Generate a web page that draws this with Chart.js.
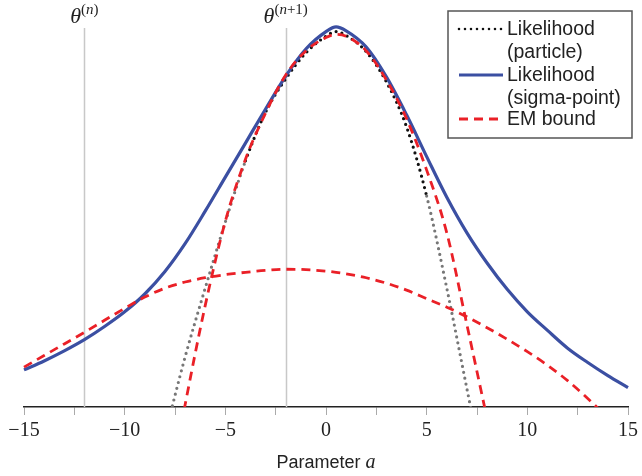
<!DOCTYPE html>
<html>
<head>
<meta charset="utf-8">
<script src="https://cdn.jsdelivr.net/npm/chart.js@4.4.1/dist/chart.umd.min.js"></script>
<style>
  html, body { margin: 0; padding: 0; background: #fff; }
</style>
</head>
<body>
<canvas id="chart" width="642" height="476"></canvas>
<script>
// Parameter a (shared x grid for every curve)
const paramA = [-15, -14, -13, -12, -11, -10, -9, -8, -7, -6, -5, -4, -3, -2, -1, 0, 0.5,
                1, 2, 3, 4, 5, 6, 7, 8, 9, 10, 11, 12, 13, 14, 15];

// Likelihood values (no y axis shown, peak ~ 1)
const likeParticle = [null, null, null, null, null, null, null, -0.072, 0.129, 0.307, 0.478, 0.636, 0.762, 0.848, 0.915, 0.958, 0.970,
                      0.960, 0.918, 0.840, 0.724, 0.545, 0.307, 0.047, -0.213, null, null, null, null, null, null, null];
const likeSigma = [0.096, 0.119, 0.145, 0.174, 0.208, 0.246, 0.292, 0.350, 0.422, 0.506, 0.594, 0.682, 0.770, 0.855, 0.925, 0.970, 0.982,
                   0.972, 0.930, 0.853, 0.755, 0.647, 0.542, 0.450, 0.372, 0.304, 0.246, 0.198, 0.152, 0.115, 0.081, 0.050];
const emBoundNarrow = [null, null, null, null, null, null, null, -0.275, 0.005, 0.262, 0.480, 0.640, 0.760, 0.858, 0.920, 0.955, 0.963,
                       0.958, 0.920, 0.845, 0.745, 0.612, 0.450, 0.212, -0.030, null, null, null, null, null, null, null];
const emBoundWide = [0.103, 0.133, 0.163, 0.193, 0.224, 0.255, 0.284, 0.307, 0.323, 0.334, 0.342, 0.348, 0.353, 0.356, 0.355, 0.351, 0.348,
                     0.344, 0.334, 0.320, 0.302, 0.280, 0.258, 0.233, 0.205, 0.175, 0.143, 0.108, 0.068, 0.022, -0.028, null];

// iterates
const thetaN = -12;
const thetaN1 = -2;

const legendLabels = [["Likelihood", "(particle)"], ["Likelihood", "(sigma-point)"], ["EM bound"]];

const BLUE = "#3b4fa2";
const RED = "#ea2027";

function pts(ys) {
  return paramA.map((x, i) => ({ x: x, y: ys[i] }));
}

function minusFmt(v) {
  return v < 0 ? "\u2212" + Math.abs(v) : String(v);
}

// draw a run of text pieces with different fonts, centred on x
function drawRun(ctx, pieces, x, y) {
  let w = 0;
  pieces.forEach(p => { ctx.font = p.font; w += ctx.measureText(p.text).width; });
  let cx = x - w / 2;
  pieces.forEach(p => {
    ctx.font = p.font;
    ctx.fillText(p.text, cx, y + (p.dy || 0));
    cx += ctx.measureText(p.text).width;
  });
}

const extras = {
  id: "extras",
  beforeDatasetsDraw(chart) {
    const ctx = chart.ctx;
    const xs = chart.scales.x;
    const bottom = chart.chartArea.bottom;
    ctx.save();
    ctx.strokeStyle = "#c8c8c8";
    ctx.lineWidth = 1.5;
    [thetaN, thetaN1].forEach(t => {
      const px = Math.round(xs.getPixelForValue(t)) + 0.5;
      ctx.beginPath();
      ctx.moveTo(px, 28);
      ctx.lineTo(px, bottom);
      ctx.stroke();
    });
    ctx.restore();
  },
  afterDraw(chart) {
    const ctx = chart.ctx;
    const xs = chart.scales.x;
    ctx.save();
    ctx.fillStyle = "#222";
    ctx.textBaseline = "alphabetic";
    const th = "italic 22px 'Liberation Serif'";
    const sup = "15px 'Liberation Serif'";
    const supI = "italic 15px 'Liberation Serif'";
    drawRun(ctx, [{ text: "\u03b8", font: th }, { text: "(", font: sup, dy: -9 },
                  { text: "n", font: supI, dy: -9 }, { text: ")", font: sup, dy: -9 }],
            xs.getPixelForValue(thetaN), 23);
    drawRun(ctx, [{ text: "\u03b8", font: th }, { text: "(", font: sup, dy: -9 },
                  { text: "n", font: supI, dy: -9 }, { text: "+1)", font: sup, dy: -9 }],
            xs.getPixelForValue(thetaN1), 23);

    // axis title
    const mid = (chart.chartArea.left + chart.chartArea.right) / 2;
    drawRun(ctx, [{ text: "Parameter ", font: "18px 'Liberation Sans'" },
                  { text: "a", font: "italic 20px 'Liberation Serif'" }], mid, 468);

    // legend box
    ctx.fillStyle = "#fff";
    ctx.fillRect(448, 11, 184, 127);
    ctx.strokeStyle = "#555";
    ctx.lineWidth = 1.5;
    ctx.strokeRect(448, 11, 184, 127);
    const ds = chart.data.datasets;
    const rows = [29, 75, 119];
    const lineH = 22.5;
    ctx.font = "19.5px 'Liberation Sans'";
    ctx.textBaseline = "middle";
    ctx.textAlign = "left";
    [0, 1, 2].forEach((k, i) => {
      const d = ds[[3, 2, 0][k]];
      ctx.beginPath();
      ctx.setLineDash(d.borderDash || []);
      ctx.lineCap = d.borderCapStyle || "butt";
      ctx.lineWidth = k === 0 ? 2.6 : d.borderWidth;
      ctx.strokeStyle = k === 0 ? "#111" : d.borderColor;
      ctx.moveTo(459, rows[i]);
      ctx.lineTo(503, rows[i]);
      ctx.stroke();
      ctx.fillStyle = "#222";
      legendLabels[k].forEach((s, j) => ctx.fillText(s, 507, rows[i] + j * lineH + 1));
    });
    ctx.restore();
  }
};

const clipBox = { left: 2, right: 2, top: 10, bottom: 0 };

new Chart(document.getElementById("chart"), {
  type: "line",
  data: {
    datasets: [
      { label: "EM bound", data: pts(emBoundNarrow), borderColor: RED, borderWidth: 2.8,
        borderDash: [9, 6], pointRadius: 0, clip: clipBox },
      { label: "EM bound (wide)", data: pts(emBoundWide), borderColor: RED, borderWidth: 2.8,
        borderDash: [9, 6], pointRadius: 0, clip: clipBox },
      { label: "Likelihood (sigma-point)", data: pts(likeSigma), borderColor: BLUE, borderWidth: 3.2,
        pointRadius: 0, clip: clipBox },
      { label: "Likelihood (particle)", data: pts(likeParticle), borderColor: "#777", borderWidth: 3.2,
        borderDash: [0, 6], borderCapStyle: "round", pointRadius: 0, clip: clipBox,
        segment: {
          borderColor: c => (c.p0.parsed.x >= -4 && c.p1.parsed.x <= 5) ? "#111" : "#777"
        } }
    ]
  },
  options: {
    responsive: false,
    animation: false,
    devicePixelRatio: 1,
    layout: { padding: { left: 24, right: 10, top: 20, bottom: 29 } },
    elements: { line: { cubicInterpolationMode: "monotone", fill: false } },
    plugins: { legend: { display: false }, tooltip: { enabled: false } },
    scales: {
      x: {
        type: "linear", min: -15, max: 15,
        border: { color: "#222", width: 1.5 },
        grid: { drawOnChartArea: false, tickLength: 8, tickColor: "#aaa", tickWidth: 1 },
        ticks: {
          stepSize: 2.5, autoSkip: false, maxRotation: 0, padding: 4,
          color: "#222", font: { family: "'Liberation Serif'", size: 20 },
          callback: v => (v % 5 === 0 ? minusFmt(v) : "")
        }
      },
      y: { display: false, min: 0, max: 1 }
    }
  },
  plugins: [extras]
});
</script>
</body>
</html>
